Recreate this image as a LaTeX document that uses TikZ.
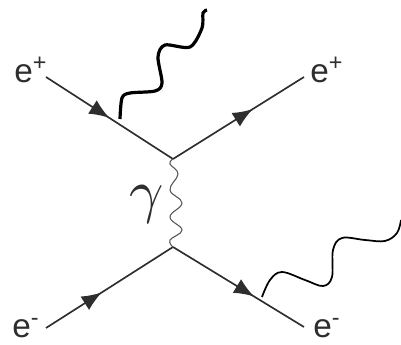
\documentclass[tikz,border=0pt]{standalone}
\usepackage{fontspec}
\setmainfont{Liberation Sans}
\usetikzlibrary{arrows.meta,decorations.markings}
\definecolor{Ink}{HTML}{2E2E2E}
\definecolor{PhotonEdge}{HTML}{555555}
\tikzset{
  lepton label/.style={font=\fontsize{25}{27}\selectfont, text=Ink, inner sep=0pt},
  charge gamma/.style={text=Ink, inner sep=0pt, scale=4.5},
  lepton line/.style={draw=Ink, line width=1.25pt, postaction={decorate},
    decoration={markings, mark=at position #1 with {\arrow{Latex[length=15pt,width=12pt]}}}},
  exchange line/.style={draw=PhotonEdge, line width=0.8pt},
  thick radiation/.style={draw=black, line width=2.4pt},
  thin radiation/.style={draw=black, line width=1.3pt},
}

\begin{document}
\begin{tikzpicture}[x=0.75pt,y=-0.75pt]
  \useasboundingbox (0,0) rectangle (401,345);

  % Vertices and free line ends.
  \coordinate (top) at (173,159);
  \coordinate (bottom) at (173,247);
  \coordinate (inpos) at (46,77);
  \coordinate (outpos) at (304,77);
  \coordinate (inele) at (46,328);
  \coordinate (outele) at (304,327);

  % Particle labels.
  \node[lepton label, anchor=base west] (inposlabel) at (14,83) {e\textsuperscript{+}};
  \node[lepton label, anchor=base west] (outposlabel) at (310,83) {e\textsuperscript{+}};
  \node[lepton label, anchor=base west] (inelelabel) at (12,338) {e\textsuperscript{-}};
  \node[lepton label, anchor=base west] (outelelabel) at (313,338) {e\textsuperscript{-}};
  \node[charge gamma] (gammalabel) at (147,204) {$\gamma$};

  % Lepton lines with their mid-line arrows.
  \draw[lepton line=0.50] (inpos) -- (top);
  \draw[lepton line=0.61] (top) -- (outpos);
  \draw[lepton line=0.44] (inele) -- (bottom);
  \draw[lepton line=0.62] (bottom) -- (outele);

  % Exchanged photon.
  \draw[exchange line] plot[smooth, tension=0.7] coordinates {(top) (170,164) (178,174) (170,190)
    (182,203) (170,217) (182,230) (170,240) (bottom)};

  % Radiated photons.
  \draw[thick radiation] plot[smooth, tension=0.5] coordinates {(120,119) (122,98) (130,93) (155,91)
    (162,83) (158,57) (165,45) (190,47) (202,28) (203,13) (207,10)};
  \draw[thin radiation] plot[smooth, tension=0.6] coordinates {(262,297) (270,280) (282,272) (305,280)
    (323,286) (332,277) (333,250) (342,238) (365,240) (385,241) (397,233) (401,220)};
\end{tikzpicture}
\end{document}
